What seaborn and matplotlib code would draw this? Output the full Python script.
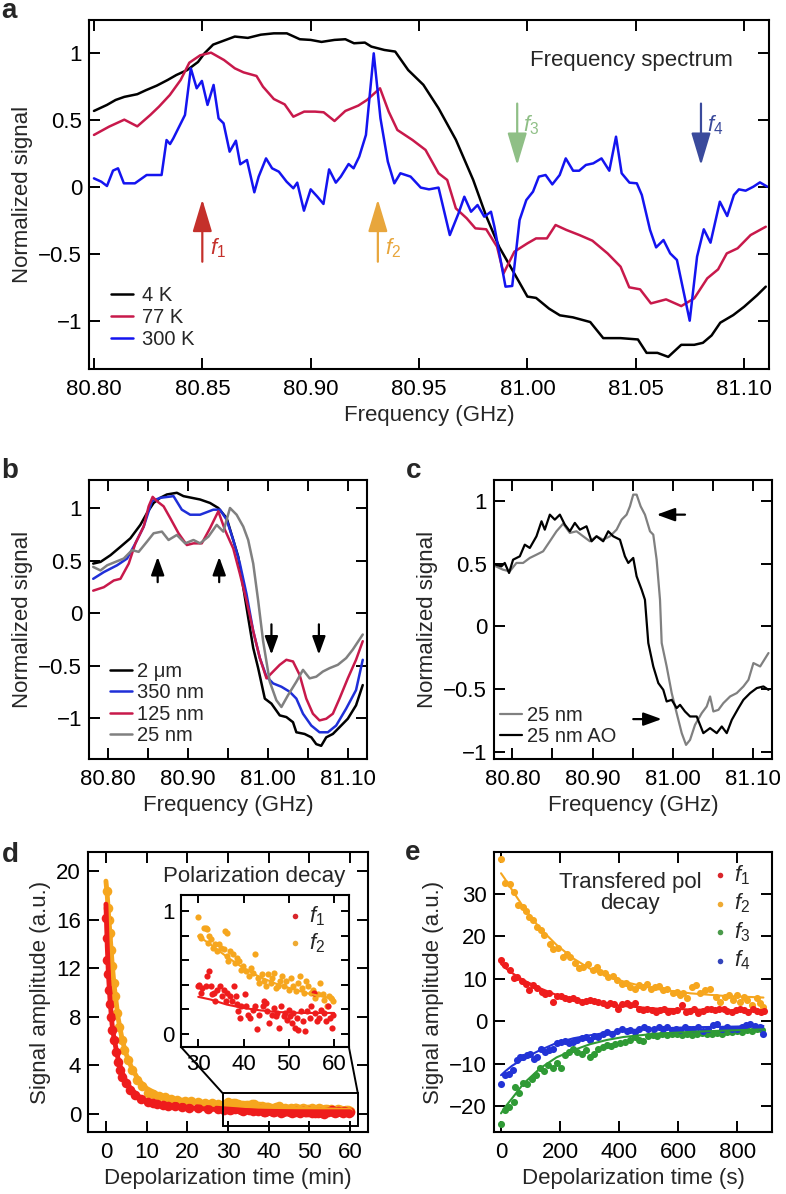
import numpy as np
import matplotlib
matplotlib.use("Agg")
import matplotlib.pyplot as plt
import seaborn as sns
from matplotlib.ticker import FuncFormatter, FormatStrFormatter
from matplotlib.patches import Rectangle, ConnectionPatch

# ---------------- data ----------------
# a: frequency spectrum at three temperatures
a_4k_x = [80.800, 80.806, 80.810, 80.814, 80.820, 80.824, 80.829, 80.834, 80.838, 80.843,
          80.848, 80.851, 80.855, 80.860, 80.865, 80.871, 80.877, 80.883, 80.889, 80.895,
          80.900, 80.905, 80.911, 80.916, 80.920, 80.925, 80.928, 80.934, 80.939, 80.945,
          80.952, 80.959, 80.967, 80.975, 80.981, 80.987, 80.993, 81.000, 81.004, 81.010,
          81.015, 81.021, 81.029, 81.035, 81.043, 81.051, 81.055, 81.060, 81.065, 81.071,
          81.077, 81.081, 81.085, 81.089, 81.095, 81.100, 81.106, 81.110]
a_4k_y = [0.565, 0.61, 0.647, 0.67, 0.69, 0.72, 0.754, 0.796, 0.833, 0.87,
          0.93, 0.995, 1.06, 1.09, 1.12, 1.11, 1.134, 1.144, 1.144, 1.10,
          1.095, 1.08, 1.095, 1.10, 1.07, 1.075, 1.045, 1.02, 1.008, 0.87,
          0.76, 0.585, 0.35, 0.05, -0.22, -0.45, -0.62, -0.82, -0.83, -0.91,
          -0.96, -0.975, -1.01, -1.13, -1.13, -1.14, -1.24, -1.24, -1.27, -1.18,
          -1.18, -1.165, -1.11, -1.015, -0.958, -0.896, -0.81, -0.746]

a_77k_x = [80.800, 80.807, 80.814, 80.820, 80.826, 80.830, 80.835, 80.840, 80.844, 80.849,
           80.854, 80.860, 80.865, 80.869, 80.875, 80.878, 80.883, 80.888, 80.892, 80.897,
           80.902, 80.906, 80.911, 80.916, 80.922, 80.926, 80.932, 80.936, 80.940, 80.947,
           80.953, 80.959, 80.963, 80.967, 80.972, 80.976, 80.981, 80.986, 80.989, 80.994,
           81.000, 81.004, 81.009, 81.013, 81.018, 81.024, 81.030, 81.037, 81.043, 81.047,
           81.052, 81.057, 81.064, 81.071, 81.077, 81.083, 81.088, 81.092, 81.097, 81.103,
           81.110]
a_77k_y = [0.386, 0.448, 0.50, 0.45, 0.535, 0.597, 0.684, 0.796, 0.925, 0.98,
           1.0, 0.945, 0.883, 0.853, 0.826, 0.746, 0.654, 0.614, 0.522, 0.56,
           0.56, 0.555, 0.49, 0.565, 0.605, 0.647, 0.734, 0.56, 0.423, 0.348,
           0.274, 0.10, 0.05, -0.162, -0.236, -0.311, -0.318, -0.448, -0.647, -0.485,
           -0.423, -0.386, -0.386, -0.286, -0.323, -0.361, -0.403, -0.498, -0.597, -0.751,
           -0.766, -0.871, -0.841, -0.891, -0.833, -0.684, -0.617, -0.498, -0.46, -0.361,
           -0.299]

a_300k_x = [80.8000, 80.8034, 80.8060, 80.8088, 80.8111, 80.8138, 80.8189, 80.8243, 80.8312, 80.8335,
            80.8351, 80.8366, 80.8420, 80.8447, 80.8474, 80.8498, 80.8524, 80.8552, 80.8575, 80.8598,
            80.8626, 80.8655, 80.8675, 80.8706, 80.8740, 80.8760, 80.8794, 80.8822, 80.8853, 80.8889,
            80.8920, 80.8938, 80.8969, 80.9000, 80.9031, 80.9059, 80.9085, 80.9116, 80.9139, 80.9175,
            80.9198, 80.9224, 80.9255, 80.9291, 80.9322, 80.9356, 80.9386, 80.9414,
            80.9461, 80.9508, 80.9546, 80.9590, 80.9642, 80.9682, 80.9709, 80.9740, 80.9770, 80.9801,
            80.9832, 80.9848, 80.9899, 80.9930, 80.9964, 80.9995, 81.0026, 81.0053, 81.0084, 81.0115,
            81.0149, 81.0177, 81.0211, 81.0239, 81.0270, 81.0304, 81.0342, 81.0378, 81.0409, 81.0435,
            81.0471, 81.0505, 81.0528, 81.0566, 81.0594, 81.0628, 81.0659, 81.0690, 81.0749, 81.0783,
            81.0814, 81.0845, 81.0888, 81.0922, 81.0953, 81.0976, 81.1007, 81.1043, 81.1073, 81.1107]
a_300k_y = [0.062, 0.037, 0.005, 0.12, 0.137, 0.025, 0.025, 0.087, 0.087, 0.348,
            0.318, 0.36, 0.535, 0.883, 0.734, 0.789, 0.61, 0.759, 0.51, 0.473,
            0.261, 0.343, 0.167, 0.199, -0.042, 0.075, 0.211, 0.137, 0.112, 0.037,
            -0.012, 0.03, -0.179, -0.02, -0.075, -0.129, 0.129, 0.03, 0.075, 0.169,
            0.137, 0.224, 0.386, 0.995, 0.51, 0.187, 0.025, 0.1,
            0.075, -0.007, -0.02, -0.007, -0.361, -0.2, -0.075, -0.187, -0.137, -0.224,
            -0.187, -0.3, -0.746, -0.741, -0.249, -0.1, -0.037, 0.075, 0.087, 0.017,
            0.087, 0.211, 0.119, 0.119, 0.162, 0.174, 0.211, 0.119, 0.373, 0.1,
            0.03, 0.025, -0.062, -0.323, -0.453, -0.398, -0.498, -0.547, -1.0, -0.522,
            -0.318, -0.418, -0.112, -0.219, -0.062, -0.02, -0.03, 0.0, 0.032, 0.0]

# b: spectra for different crystal sizes
b_2um_x = [80.7813, 80.7904, 80.8029, 80.8154, 80.8278, 80.8403, 80.8486, 80.8569, 80.8652, 80.8735,
           80.8860, 80.8943, 80.9047, 80.9151, 80.9275, 80.9379, 80.9483, 80.9566, 80.9629, 80.9691,
           80.9753, 80.9816, 80.9878, 80.9961, 81.0044, 81.0148, 81.0231, 81.0314, 81.0356, 81.0459,
           81.0543, 81.0605, 81.0667, 81.0730, 81.0813, 81.0896, 81.1000, 81.1103, 81.1187]
b_2um_y = [0.473, 0.489, 0.553, 0.633, 0.714, 0.842, 0.955, 1.051, 1.1, 1.132,
           1.148, 1.116, 1.1, 1.084, 1.051, 1.003, 0.907, 0.698, 0.537, 0.248,
           -0.042, -0.331, -0.524, -0.814, -0.862, -0.974, -0.99, -1.039, -1.135, -1.151,
           -1.183, -1.248, -1.264, -1.183, -1.151, -1.087, -1.006, -0.878, -0.685]

b_350_x = [80.7813, 80.7946, 80.8112, 80.8237, 80.8341, 80.8445, 80.8548, 80.8652, 80.8818, 80.8922,
           80.9026, 80.9151, 80.9317, 80.9400, 80.9483, 80.9566, 80.9649, 80.9732, 80.9816, 80.9899,
           80.9982, 81.0065, 81.0169, 81.0273, 81.0356, 81.0439, 81.0543, 81.0646, 81.0750, 81.0854,
           81.0979, 81.1103, 81.1187]
b_350_y = [0.328, 0.392, 0.457, 0.521, 0.666, 0.826, 1.068, 1.1, 1.116, 0.987,
           0.939, 0.939, 0.987, 0.987, 0.891, 0.698, 0.473, 0.183, -0.17, -0.428,
           -0.605, -0.669, -0.701, -0.749, -0.814, -0.958, -1.071, -1.135, -1.135, -1.071,
           -0.91, -0.733, -0.444]

b_125_x = [80.7813, 80.7946, 80.8071, 80.8154, 80.8258, 80.8341, 80.8445, 80.8507, 80.8557, 80.8611,
           80.8694, 80.8777, 80.8881, 80.8985, 80.9068, 80.9172, 80.9275, 80.9379, 80.9462, 80.9566,
           80.9649, 80.9732, 80.9816, 80.9899, 80.9982, 81.0065, 81.0148, 81.0231, 81.0314, 81.0397,
           81.0480, 81.0563, 81.0646, 81.0730, 81.0813, 81.0896, 81.1000, 81.1103, 81.1187]
b_125_y = [0.215, 0.248, 0.312, 0.328, 0.473, 0.666, 0.826, 1.019, 1.109, 1.068,
           1.019, 0.907, 0.762, 0.65, 0.666, 0.666, 0.81, 0.971, 0.794, 0.617,
           0.376, 0.119, -0.17, -0.428, -0.621, -0.556, -0.492, -0.444, -0.46, -0.588,
           -0.814, -0.958, -1.022, -1.006, -0.958, -0.814, -0.621, -0.444, -0.267]

b_25_x = [80.7813, 80.7904, 80.7988, 80.8091, 80.8195, 80.8299, 80.8382, 80.8486, 80.8569, 80.8673,
          80.8756, 80.8860, 80.8964, 80.9068, 80.9151, 80.9255, 80.9359, 80.9442, 80.9525, 80.9608,
          80.9691, 80.9753, 80.9816, 80.9878, 80.9940, 81.0023, 81.0106, 81.0169, 81.0252, 81.0356,
          81.0439, 81.0522, 81.0605, 81.0688, 81.0771, 81.0875, 81.0979, 81.1062, 81.1187]
b_25_y = [0.441, 0.408, 0.457, 0.489, 0.521, 0.601, 0.585, 0.682, 0.762, 0.778,
          0.698, 0.746, 0.666, 0.698, 0.666, 0.73, 0.842, 0.778, 1.003, 0.939,
          0.826, 0.698, 0.473, 0.119, -0.267, -0.653, -0.83, -0.894, -0.781, -0.653,
          -0.54, -0.621, -0.605, -0.556, -0.524, -0.492, -0.428, -0.347, -0.203]

# c: 25 nm with and without AO
c_25_x = [80.7792, 80.7883, 80.7967, 80.8050, 80.8133, 80.8217, 80.8300, 80.8383, 80.8467, 80.8550,
          80.8633, 80.8717, 80.8800, 80.8883, 80.8967, 80.9050, 80.9133, 80.9217, 80.9300, 80.9363,
          80.9425, 80.9467, 80.9508, 80.9550, 80.9600, 80.9654, 80.9717, 80.9758, 80.9800, 80.9842,
          80.9863, 80.9925, 80.9988, 81.0050, 81.0113, 81.0167, 81.0217, 81.0279, 81.0363, 81.0425,
          81.0467, 81.0508, 81.0571, 81.0633, 81.0717, 81.0800, 81.0883, 81.0946, 81.1008, 81.1092,
          81.1196]
c_25_y = [0.48, 0.453, 0.44, 0.507, 0.507, 0.547, 0.573, 0.6, 0.68, 0.76,
          0.821, 0.747, 0.76, 0.72, 0.68, 0.72, 0.693, 0.72, 0.773, 0.853,
          0.893, 0.96, 1.053, 1.053, 0.96, 0.893, 0.76, 0.733, 0.533, 0.213,
          -0.133, -0.32, -0.533, -0.693, -0.853, -0.947, -0.907, -0.787, -0.693, -0.64,
          -0.56, -0.68, -0.667, -0.613, -0.56, -0.533, -0.48, -0.427, -0.293, -0.32,
          -0.213]

c_ao_x = [80.7792, 80.7863, 80.7904, 80.7958, 80.8008, 80.8092, 80.8154, 80.8217, 80.8300, 80.8363,
          80.8404, 80.8467, 80.8529, 80.8592, 80.8654, 80.8717, 80.8779, 80.8842, 80.8925, 80.8988,
          80.9050, 80.9133, 80.9196, 80.9258, 80.9342, 80.9404, 80.9446, 80.9508, 80.9550, 80.9613,
          80.9654, 80.9696, 80.9758, 80.9821, 80.9883, 80.9925, 80.9988, 81.0050, 81.0092, 81.0154,
          81.0217, 81.0300, 81.0383, 81.0467, 81.0550, 81.0613, 81.0675, 81.0738, 81.0821, 81.0883,
          81.0967, 81.1050, 81.1133, 81.1196]
c_ao_y = [0.493, 0.48, 0.507, 0.427, 0.533, 0.56, 0.653, 0.627, 0.72, 0.84,
          0.773, 0.893, 0.853, 0.893, 0.813, 0.76, 0.827, 0.773, 0.8, 0.68,
          0.72, 0.68, 0.76, 0.72, 0.693, 0.56, 0.507, 0.547, 0.4, 0.293,
          0.213, -0.133, -0.32, -0.453, -0.507, -0.6, -0.587, -0.653, -0.627, -0.68,
          -0.72, -0.72, -0.853, -0.813, -0.853, -0.8, -0.853, -0.747, -0.653, -0.587,
          -0.533, -0.493, -0.48, -0.507]

# d: polarization decay (min), early part, late part from inset
d_f1_early_t = [0, 0.16, 0.33, 0.57, 0.74, 0.98, 1.23, 1.56, 1.89, 2.38, 2.87, 3.44, 4.02, 4.84,
                5.90, 7.13, 8.61, 10.41, 11.5, 12.46, 13.9, 15.33, 17.0, 18.61, 20.5, 22.7, 25.0,
                27.6, 29.0]
d_f1_early_v = [16.15, 14.5, 12.7, 11.5, 10.2, 9.1, 8.0, 6.9, 6.1, 5.1, 4.3, 3.6, 3.08, 2.53,
                1.98, 1.57, 1.21, 0.94, 0.86, 0.80, 0.74, 0.68, 0.62, 0.57, 0.52, 0.47, 0.42,
                0.38, 0.35]
d_f2_early_t = [0.33, 0.57, 0.74, 0.98, 1.23, 1.56, 1.89, 2.21, 2.70, 3.20, 3.85, 4.51, 5.33,
                6.31, 7.54, 8.77, 10.41, 11.5, 13.0, 14.5, 16.0, 17.5, 19.4, 21.0, 22.7, 24.3,
                26.0, 27.6, 29.3]
d_f2_early_v = [18.35, 16.97, 16.0, 14.9, 13.5, 12.2, 10.8, 9.7, 8.3, 7.2, 6.1, 5.3, 4.46,
                3.63, 2.8, 2.26, 1.76, 1.62, 1.45, 1.35, 1.25, 1.18, 1.1, 1.03, 0.98, 0.93,
                0.88, 0.85, 0.82]

d_f1_late_t = [30.00, 30.22, 30.57, 30.93, 31.65, 32.01, 32.37, 32.73, 33.09, 33.45,
               33.80, 34.16, 34.74, 35.24, 35.60, 36.17, 36.46, 37.04, 37.39, 37.90,
               38.33, 38.61, 38.83, 39.19, 39.55, 40.27, 40.62, 40.98, 41.34, 42.06,
               42.63, 42.92, 43.50, 44.21, 44.57, 44.93, 45.29, 45.65, 46.37, 46.73,
               47.09, 47.44, 47.80, 48.38, 48.88, 49.24, 49.60, 49.96, 50.32, 50.67,
               51.03, 51.39, 51.75, 52.11, 52.68, 53.19, 53.69, 54.12, 54.62, 54.98,
               55.56, 55.70, 56.27, 56.78, 57.14, 57.71, 58.21, 58.57, 59.15, 59.65, 59.86]
d_f1_late_v = [0.389, 0.402, 0.334, 0.375, 0.389, 0.470, 0.511, 0.389, 0.321, 0.334,
               0.266, 0.361, 0.389, 0.307, 0.361, 0.266, 0.334, 0.307, 0.266, 0.389,
               0.307, 0.247, 0.185, 0.130, 0.226, 0.321, 0.226, 0.158, 0.130, 0.198,
               0.226, 0.041, 0.158, 0.226, 0.266, 0.253, 0.185, 0.090, 0.158, 0.212,
               0.144, 0.171, 0.049, 0.226, 0.144, 0.171, 0.117, 0.198, 0.144, 0.090,
               0.171, 0.049, 0.130, 0.035, 0.185, 0.103, 0.022, 0.185, 0.130, 0.226,
               0.334, 0.171, 0.103, 0.130, 0.198, 0.171, 0.103, 0.226, 0.130, 0.049, 0.158]
d_f2_late_t = [30.00, 30.43, 30.72, 31.29, 31.65, 31.87, 32.15, 32.37, 32.73, 33.30,
               33.80, 34.16, 34.52, 35.03, 35.60, 35.96, 36.46, 36.32, 36.68, 37.04,
               37.61, 38.11, 38.47, 39.05, 39.55, 39.91, 40.62, 41.20, 41.70, 42.20,
               42.63, 43.14, 43.50, 44.07, 44.57, 44.93, 45.51, 46.01, 46.37, 46.73,
               47.09, 47.66, 48.16, 48.52, 48.88, 49.38, 49.96, 50.53, 51.03, 51.54,
               51.97, 52.47, 52.83, 53.40, 53.91, 54.26, 54.84, 55.34, 55.84, 56.42,
               56.99, 57.49, 57.85, 58.43, 58.93, 59.43, 59.86]
d_f2_late_v = [0.954, 0.796, 0.783, 0.864, 0.864, 0.851, 0.742, 0.796, 0.769, 0.701,
               0.728, 0.674, 0.728, 0.701, 0.688, 0.837, 0.823, 0.633, 0.592, 0.674,
               0.647, 0.579, 0.620, 0.592, 0.524, 0.552, 0.511, 0.470, 0.538, 0.497,
               0.647, 0.457, 0.416, 0.484, 0.429, 0.389, 0.484, 0.416, 0.457, 0.497,
               0.375, 0.389, 0.429, 0.470, 0.389, 0.429, 0.361, 0.457, 0.389, 0.348,
               0.416, 0.470, 0.375, 0.334, 0.429, 0.389, 0.334, 0.361, 0.293, 0.321,
               0.416, 0.321, 0.280, 0.226, 0.307, 0.293, 0.266]

# fitted curves
d_fit1_t = [0, 0.16, 0.33, 0.6, 1, 1.5, 2, 3, 4, 5, 6.3, 8, 10, 13, 17, 22, 26,
            30, 32.73, 36.3, 39.9, 43.5, 47.1, 52.8, 60]
d_fit1_v = [17.3, 15.6, 13.8, 11.6, 9.4, 7.4, 6.2, 4.5, 3.4, 2.6, 2.0, 1.45, 1.05, 0.78, 0.6,
            0.46, 0.38, 0.302, 0.28, 0.239, 0.212, 0.193, 0.179, 0.171, 0.171]
d_fit2_t = [0, 0.33, 0.6, 1, 1.5, 2, 3, 4, 5, 6.3, 8, 10, 13, 17, 22,
            30, 32.73, 36.3, 39.9, 43.5, 47.1, 50.7, 54.3, 57.1, 60]
d_fit2_v = [19.2, 18.0, 16.6, 14.8, 12.5, 10.6, 7.9, 6.1, 4.9, 3.8, 2.8, 2.1, 1.55, 1.2, 1.0,
            0.796, 0.728, 0.628, 0.538, 0.465, 0.41, 0.367, 0.329, 0.307, 0.288]

# e: transferred polarization decay (s)
e_f1_t = [0, 14, 30, 44, 55, 70, 85, 96, 109, 123, 138, 149, 164, 177, 188, 202, 217, 231, 245, 258,
          273, 288, 301, 315, 329, 344, 357, 368, 382, 397, 411, 425, 438, 453, 468, 481, 495, 510,
          525, 538, 552, 566, 581, 595, 612, 626, 640, 653, 668, 683, 696, 710, 724, 739, 753, 766,
          781, 796, 809, 823, 837, 852, 866, 879, 890]
e_f1_v = [14.4, 13.3, 12.1, 10.1, 10.5, 9.6, 8.7, 7.4, 8.5, 7.8, 7.0, 6.4, 6.6, 4.6, 5.9, 5.9,
          5.6, 5.2, 5.4, 5.0, 4.6, 4.8, 5.0, 4.8, 4.6, 4.2, 3.8, 4.4, 4.1, 2.8, 4.1, 4.4, 3.8, 4.2,
          3.0, 2.6, 3.0, 2.6, 2.2, 2.6, 2.8, 2.2, 2.5, 2.6, 3.8, 2.2, 2.5, 2.8, 2.0, 2.5, 3.0, 2.8,
          2.6, 3.0, 2.8, 2.5, 2.2, 2.6, 3.0, 2.6, 2.2, 2.8, 2.5, 2.2, 2.5]
e_f2_t = [0, 14, 30, 44, 59, 73, 85, 96, 109, 121, 135, 146, 166, 177, 192, 209, 222, 234, 251,
          265, 279, 296, 310, 324, 335, 352, 363, 378, 392, 408, 423, 437, 454, 468, 482, 493,
          507, 521, 536, 547, 561, 581, 595, 606, 617, 631, 645, 660, 674, 691, 707, 728, 741,
          758, 770, 786, 798, 809, 823, 834, 849, 865, 877, 888]
e_f2_v = [38.25, 32.7, 32.3, 30.5, 27.4, 26.9, 26.1, 24.7, 23.9, 22.3, 21.5, 20.3, 18.2, 17.0,
          17.2, 15.1, 15.8, 15.2, 13.8, 12.5, 12.9, 13.5, 12.1, 12.9, 11.7, 11.3, 10.4, 10.7, 9.7,
          8.8, 9.1, 8.1, 7.5, 8.5, 8.1, 8.9, 7.7, 8.1, 8.3, 7.4, 7.7, 6.6, 7.0, 6.2, 6.7, 5.4,
          8.1, 8.5, 6.6, 7.4, 7.7, 5.8, 4.6, 5.8, 6.2, 5.0, 6.2, 4.6, 5.8, 5.0, 3.8, 5.4, 4.4, 3.4]
e_f3_t = [0, 14, 28, 44, 47, 62, 76, 89, 104, 119, 132, 146, 160, 175, 188, 202, 217, 231, 245,
          258, 273, 288, 301, 315, 329, 344, 357, 371, 385, 402, 419, 436, 453, 468, 482, 499,
          514, 528, 545, 562, 579, 596, 612, 629, 646, 663, 680, 697, 714, 731, 747, 764, 781,
          798, 815, 832, 849, 866, 883]
e_f3_v = [-24.3, -20.8, -20.3, -19.0, -15.6, -17.0, -14.5, -14.7, -13.7, -12.7, -11.1, -11.7,
          -10.3, -10.9, -9.8, -11.1, -8.0, -7.2, -6.6, -7.2, -7.6, -6.8, -8.5, -7.6, -6.6, -6.0,
          -5.6, -5.9, -5.4, -5.2, -4.8, -4.4, -3.7, -4.3, -4.6, -3.5, -3.3, -3.5, -2.9, -3.3,
          -3.0, -2.9, -3.3, -2.9, -3.3, -2.9, -2.7, -3.0, -2.9, -2.7, -3.0, -2.6, -2.5, -2.2,
          -2.5, -2.1, -2.2, -1.9, -2.1]
e_f4_t = [0, 14, 28, 42, 53, 64, 76, 87, 98, 112, 123, 134, 149, 164, 177, 188, 202, 217, 231,
          245, 258, 273, 288, 301, 315, 329, 346, 359, 374, 391, 408, 425, 438, 453, 468, 484,
          499, 516, 533, 548, 563, 578, 592, 606, 623, 637, 651, 668, 685, 702, 716, 730, 747,
          764, 781, 798, 815, 829, 843, 860, 875, 888]
e_f4_v = [-14.7, -12.7, -12.5, -11.4, -9.2, -8.5, -8.4, -8.0, -7.6, -8.8, -8.4, -6.6, -7.2,
          -6.8, -6.6, -5.2, -4.8, -4.6, -5.1, -4.8, -4.4, -4.0, -3.7, -4.3, -3.5, -3.7, -2.9,
          -2.5, -2.9, -2.2, -1.7, -2.2, -2.1, -2.5, -1.7, -1.4, -1.9, -1.7, -1.3, -1.9, -1.4,
          -2.1, -1.7, -2.1, -1.4, -1.9, -1.7, -1.3, -2.2, -1.7, -0.9, -0.7, -1.7, -1.3, -1.7,
          -1.9, -1.4, -0.9, -0.7, -1.1, -1.3, -2.9]

e_fit_t = [0, 14, 37, 76, 132, 188, 245, 301, 358, 414, 470, 527, 640, 753, 888]
e_fit1 = [13.5, 12.6, 11.4, 9.7, 7.8, 6.2, 5.2, 4.6, 4.1, 3.6, 3.3, 3.0, 2.8, 2.6, 2.6]
e_fit2 = [34.9, 33.5, 31.0, 26.9, 21.9, 18.0, 14.8, 12.4, 10.7, 9.4, 8.4, 7.6, 6.6, 6.0, 5.6]
e_fit3 = [-21.7, -20.2, -18.2, -14.7, -11.1, -8.5, -6.8, -5.4, -4.4, -3.7, -3.3, -2.9, -2.5, -2.2, -1.9]
e_fit4 = [-12.7, -11.8, -10.5, -8.8, -6.8, -5.1, -4.0, -3.3, -2.7, -2.2, -1.9, -1.7, -1.4, -1.3, -1.1]

# ---------------- style ----------------
sns.set_theme(style="ticks")
plt.rcParams['font.family'] = ['Liberation Sans', 'DejaVu Sans']
plt.rcParams['mathtext.fontset'] = 'custom'
plt.rcParams['mathtext.rm'] = 'Liberation Sans'
plt.rcParams['mathtext.it'] = 'Liberation Sans:italic'
plt.rcParams['axes.edgecolor'] = 'black'
plt.rcParams['axes.linewidth'] = 1.5

FS = 16
RED_D, ORANGE_D, GREEN_D, BLUE_D = '#ee1c1c', '#f6a61e', '#2f9a35', '#2233d6'

signed = FuncFormatter(lambda v, p: f"{v:g}".replace('-', '\u2212'))


def style_ax(ax, length=8):
    ax.tick_params(which='both', direction='in', top=True, right=True, length=length,
                   width=1.4, labelsize=FS, colors='black')
    ax.tick_params(axis='y', pad=5)
    ax.tick_params(axis='x', pad=7)
    for sp in ax.spines.values():
        sp.set_linewidth(1.5)
        sp.set_color('black')


def line(ax, x, y, color, label=None, lw=1.8):
    sns.lineplot(x=x, y=y, ax=ax, color=color, lw=lw, label=label,
                 estimator=None, sort=False, legend=False)


def arrow(ax, tail, tip, color, hl=1.0, hw=0.3):
    ax.annotate('', xy=tip, xytext=tail,
                arrowprops=dict(arrowstyle=f'-|>,head_length={hl},head_width={hw}',
                                color=color, lw=1.6, mutation_scale=20, shrinkA=0, shrinkB=0))


fig = plt.figure(figsize=(7.86, 11.94), dpi=100)

# ---------------- a ----------------
axa = fig.add_axes([0.1132, 0.6910, 0.8652, 0.2923])
line(axa, a_4k_x, a_4k_y, 'black', '4 K')
line(axa, a_77k_x, a_77k_y, '#c8194b', '77 K')
line(axa, a_300k_x, a_300k_y, '#1414f0', '300 K')
axa.set_xlim(80.7977, 81.1115)
axa.set_ylim(-1.36, 1.244)
axa.set_xticks(np.arange(80.80, 81.101, 0.05))
axa.set_yticks([-1, -0.5, 0, 0.5, 1])
axa.xaxis.set_major_formatter(FormatStrFormatter('%.2f'))
axa.yaxis.set_major_formatter(signed)
style_ax(axa)
axa.set_xlabel('Frequency (GHz)', fontsize=FS)
axa.set_ylabel('Normalized signal', fontsize=FS)
axa.text(0.947, 0.885, 'Frequency spectrum', transform=axa.transAxes,
         ha='right', va='center', fontsize=FS)
axa.legend(loc='lower left', bbox_to_anchor=(0.032, 0.057), frameon=False, fontsize=14.5,
           handlelength=1.1, handletextpad=0.45, labelspacing=0.15, borderpad=0,
           borderaxespad=0)
for lab, x, tail, tip, col, tx, ty in [
        ('$f_1$', 80.85, -0.56, -0.095, '#c4302b', 80.8535, -0.46),
        ('$f_2$', 80.931, -0.56, -0.095, '#e8a63c', 80.9345, -0.46),
        ('$f_3$', 80.9953, 0.62, 0.16, '#8fbf86', 80.998, 0.46),
        ('$f_4$', 81.0801, 0.62, 0.16, '#3a4a9c', 81.083, 0.46)]:
    arrow(axa, (x, tail), (x, tip), col)
    axa.text(tx, ty, lab, color=col, fontsize=FS, ha='left', va='center')

# ---------------- b ----------------
axb = fig.add_axes([0.1132, 0.3643, 0.3537, 0.2337])
line(axb, b_2um_x, b_2um_y, 'black', '2 μm')
line(axb, b_350_x, b_350_y, '#1f2fd8', '350 nm')
line(axb, b_125_x, b_125_y, '#c8194b', '125 nm')
line(axb, b_25_x, b_25_y, '#808080', '25 nm')
axb.set_xlim(80.776, 81.124)
axb.set_ylim(-1.39, 1.27)
axb.set_xticks([80.8, 80.9, 81.0, 81.1])
axb.set_xticks([80.85, 80.95, 81.05], minor=True)
axb.set_yticks([-1, -0.5, 0, 0.5, 1])
axb.xaxis.set_major_formatter(FormatStrFormatter('%.2f'))
axb.yaxis.set_major_formatter(signed)
style_ax(axb)
axb.set_xlabel('Frequency (GHz)', fontsize=FS)
axb.set_ylabel('Normalized signal', fontsize=FS)
axb.legend(loc='lower left', bbox_to_anchor=(0.075, 0.05), frameon=False, fontsize=14.5,
           handlelength=1.1, handletextpad=0.25, labelspacing=0.12, borderpad=0,
           borderaxespad=0)
for x in [80.862, 80.939]:
    arrow(axb, (x, 0.296), (x, 0.537), 'black', hl=0.55, hw=0.2)
for x in [81.0044, 81.0638]:
    arrow(axb, (x, -0.106), (x, -0.395), 'black', hl=0.55, hw=0.2)

# ---------------- c ----------------
axc = fig.add_axes([0.6285, 0.3643, 0.3537, 0.2337])
line(axc, c_25_x, c_25_y, '#808080', '25 nm', lw=1.6)
line(axc, c_ao_x, c_ao_y, 'black', '25 nm AO', lw=1.6)
axc.set_xlim(80.777, 81.124)
axc.set_ylim(-1.06, 1.17)
axc.set_xticks([80.8, 80.9, 81.0, 81.1])
axc.set_xticks([80.85, 80.95, 81.05], minor=True)
axc.set_yticks([-1, -0.5, 0, 0.5, 1])
axc.xaxis.set_major_formatter(FormatStrFormatter('%.2f'))
axc.yaxis.set_major_formatter(signed)
style_ax(axc)
axc.set_xlabel('Frequency (GHz)', fontsize=FS)
axc.set_ylabel('Normalized signal', fontsize=FS)
axc.legend(loc='lower left', bbox_to_anchor=(0.022, 0.045), frameon=False, fontsize=14.5,
           handlelength=1.1, handletextpad=0.25, labelspacing=0.12, borderpad=0,
           borderaxespad=0)
arrow(axc, (81.0154, 0.893), (80.980, 0.893), 'black', hl=0.55, hw=0.2)
arrow(axc, (80.9508, -0.741), (80.9863, -0.741), 'black', hl=0.55, hw=0.2)

# ---------------- d ----------------
axd = fig.add_axes([0.1120, 0.0519, 0.3562, 0.2345])
f1_t = d_f1_early_t + d_f1_late_t
f1_v = d_f1_early_v + d_f1_late_v
f2_t = d_f2_early_t + d_f2_late_t
f2_v = d_f2_early_v + d_f2_late_v
line(axd, d_fit2_t, d_fit2_v, ORANGE_D, lw=3.5)
sns.scatterplot(x=f2_t, y=f2_v, ax=axd, color=ORANGE_D, s=48, linewidth=0, legend=False)
line(axd, d_fit1_t, d_fit1_v, RED_D, lw=3.5)
sns.scatterplot(x=f1_t, y=f1_v, ax=axd, color=RED_D, s=48, linewidth=0, legend=False)
axd.set_xlim(-4.4, 64.4)
axd.set_ylim(-1.5, 21.6)
axd.set_xticks(range(0, 61, 10))
axd.set_yticks(range(0, 21, 4))
style_ax(axd)
axd.set_xlabel('Depolarization time (min)', fontsize=FS)
axd.set_ylabel('Signal amplitude (a.u.)', fontsize=FS)
axd.text(0.918, 0.911, 'Polarization decay', transform=axd.transAxes,
         ha='right', va='center', fontsize=FS)
axd.add_patch(Rectangle((28.7, -1.0), 33.2, 2.7, fill=False, ec='black', lw=1.4, zorder=5))

axi = fig.add_axes([0.2309, 0.1227, 0.2131, 0.1277])
axi.set_facecolor('white')
ft1 = np.array(d_fit1_t)
ft2 = np.array(d_fit2_t)
m1, m2 = ft1 >= 30, ft2 >= 30
sns.scatterplot(x=d_f2_late_t, y=d_f2_late_v, ax=axi, color=ORANGE_D, s=20, linewidth=0,
                legend=False)
sns.scatterplot(x=d_f1_late_t, y=d_f1_late_v, ax=axi, color=RED_D, s=20, linewidth=0,
                legend=False)
line(axi, ft2[m2], np.array(d_fit2_v)[m2], ORANGE_D, lw=1.5)
line(axi, ft1[m1], np.array(d_fit1_v)[m1], RED_D, lw=1.5)
axi.set_xlim(26.3, 63.3)
axi.set_ylim(-0.11, 1.13)
axi.set_xticks([30, 40, 50, 60])
axi.set_yticks([0, 1])
axi.set_yticks([0.2, 0.4, 0.6, 0.8], minor=True)
axi.yaxis.set_major_formatter(signed)
style_ax(axi, length=6)
axi.tick_params(axis='x', pad=5)
axi.set_xlabel('')
axi.set_ylabel('')
h1 = axi.scatter([], [], color='#d9262b', s=16, linewidth=0)
h2 = axi.scatter([], [], color='#eeaa33', s=16, linewidth=0)
axi.legend([h1, h2], ['$f_1$', '$f_2$'], loc='upper left', bbox_to_anchor=(0.64, 0.94),
           frameon=False, fontsize=FS, handlelength=0.6, handletextpad=0.3,
           labelspacing=0.15, borderpad=0, borderaxespad=0)
for xa, xb in [((28.7, 1.7), (0, 0)), ((61.9, 1.7), (1, 0))]:
    fig.add_artist(ConnectionPatch(xyA=xa, coordsA=axd.transData, xyB=xb,
                                   coordsB=axi.transAxes, color='black', lw=1.4))

# ---------------- e ----------------
axe = fig.add_axes([0.6285, 0.0519, 0.3537, 0.2345])
for t, v, fit, col in [(e_f2_t, e_f2_v, e_fit2, ORANGE_D), (e_f1_t, e_f1_v, e_fit1, RED_D),
                       (e_f3_t, e_f3_v, e_fit3, GREEN_D), (e_f4_t, e_f4_v, e_fit4, BLUE_D)]:
    sns.scatterplot(x=t, y=v, ax=axe, color=col, s=26, linewidth=0, legend=False)
    line(axe, e_fit_t, fit, col, lw=1.5)
axe.set_xlim(-23.7, 917)
axe.set_ylim(-26.1, 39.9)
axe.set_xticks(range(0, 801, 200))
axe.set_yticks(range(-20, 31, 10))
axe.yaxis.set_major_formatter(signed)
style_ax(axe)
axe.set_xlabel('Depolarization time (s)', fontsize=FS)
axe.set_ylabel('Signal amplitude (a.u.)', fontsize=FS)
axe.text(0.489, 0.852, 'Transfered pol\ndecay', transform=axe.transAxes, ha='center',
         va='center', fontsize=FS, linespacing=1.0)
hs = [axe.scatter([], [], color=c, s=16, linewidth=0)
      for c in ['#d9262b', '#eeaa33', '#4a9a4a', '#3344bb']]
axe.legend(hs, ['$f_1$', '$f_2$', '$f_3$', '$f_4$'], loc='upper left',
           bbox_to_anchor=(0.79, 0.96), frameon=False, fontsize=FS, handlelength=0.6,
           handletextpad=0.3, labelspacing=0.22, borderpad=0, borderaxespad=0)

# ---------------- panel letters ----------------
for lab, x, y in [('a', 0.001, 0.9849), ('b', 0.002, 0.5997), ('c', 0.517, 0.5997),
                  ('d', 0.002, 0.2781), ('e', 0.515, 0.2797)]:
    fig.text(x, y, lab, fontsize=20, fontweight='bold', va='baseline', ha='left')

fig.savefig('out.png', dpi=100)
